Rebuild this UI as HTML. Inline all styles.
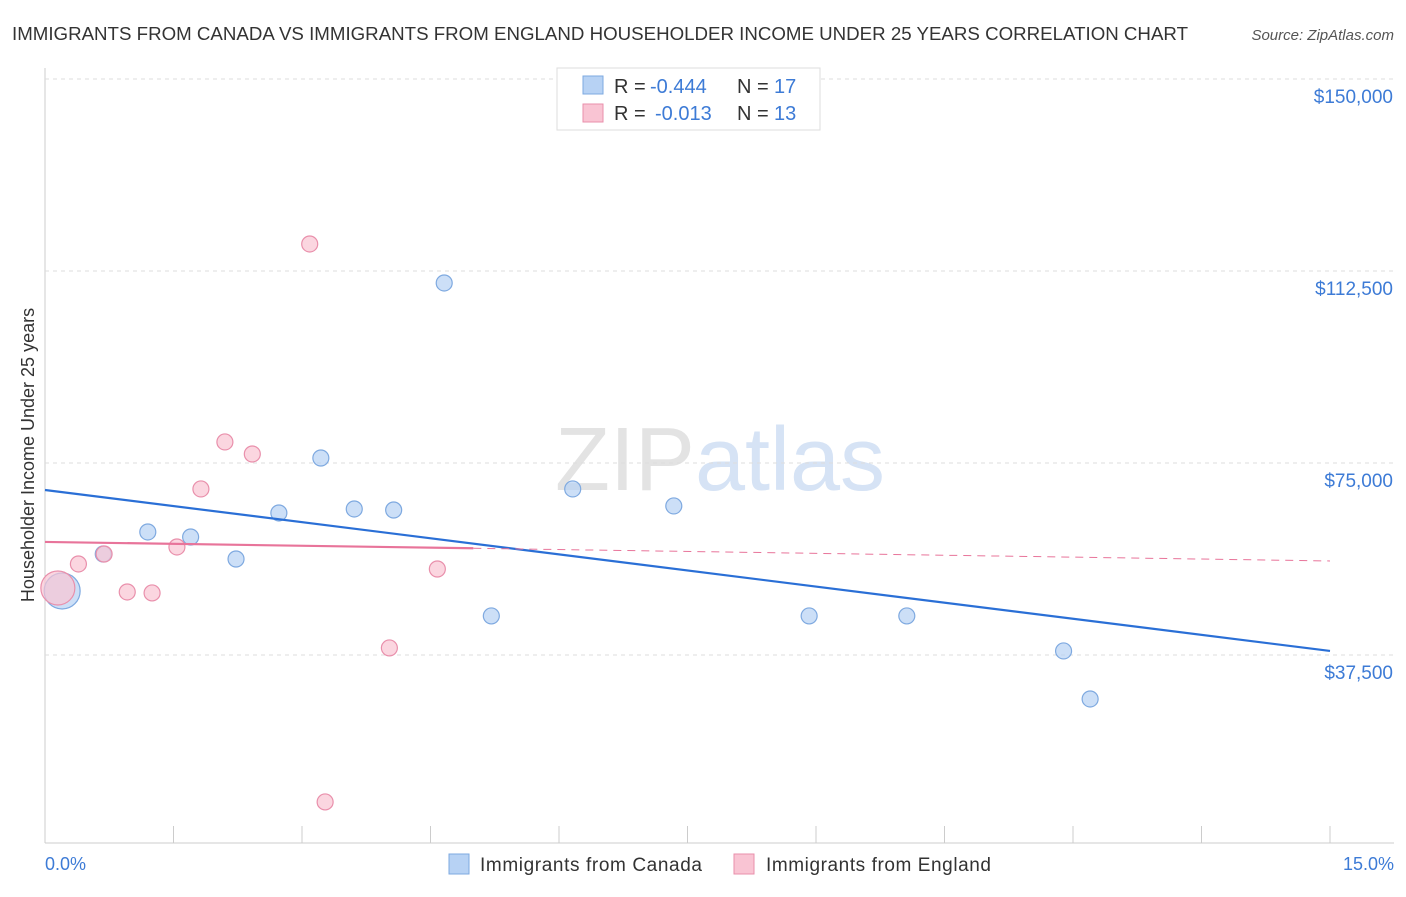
<!DOCTYPE html>
<html><head><meta charset="utf-8"><style>
body{margin:0;background:#fff;font-family:"Liberation Sans",sans-serif;}
svg text{font-family:"Liberation Sans",sans-serif;}
</style></head><body>
<svg id="chart" width="1406" height="892">
<text x="12" y="40" font-size="18" fill="#333" textLength="1176" lengthAdjust="spacingAndGlyphs">IMMIGRANTS FROM CANADA VS IMMIGRANTS FROM ENGLAND HOUSEHOLDER INCOME UNDER 25 YEARS CORRELATION CHART</text>
<text x="1394" y="40" font-size="15" fill="#555" font-style="italic" text-anchor="end">Source: ZipAtlas.com</text>
<text x="720" y="490" font-size="90" fill="#e3e3e3" text-anchor="middle" font-family="Liberation Serif">ZIP<tspan fill="#d6e3f5" font-family="Liberation Sans">atlas</tspan></text>
<text transform="translate(34,455) rotate(-90)" font-size="18" fill="#333" text-anchor="middle">Householder Income Under 25 years</text>
<g id="grid"></g><g id="marks"></g>
<text x="45" y="870" font-size="18" fill="#3d7bd6">0.0%</text>
<text x="1394" y="870" font-size="18" fill="#3d7bd6" text-anchor="end">15.0%</text>
<g>
<rect x="557" y="68" width="263" height="62" fill="#fff" stroke="#ddd"/>
<rect x="583" y="76" width="20" height="18" fill="#b7d2f4" stroke="#7ea9e0"/>
<rect x="583" y="104" width="20" height="18" fill="#f9c4d3" stroke="#e98fab"/>
<text x="614" y="93" font-size="20" fill="#333">R = <tspan x="650" fill="#3d7bd6">-0.444</tspan><tspan x="737">N = </tspan><tspan x="774" fill="#3d7bd6">17</tspan></text>
<text x="614" y="120" font-size="20" fill="#333">R = <tspan x="655" fill="#3d7bd6">-0.013</tspan><tspan x="737">N = </tspan><tspan x="774" fill="#3d7bd6">13</tspan></text>
</g>
<g>
<rect x="449" y="854" width="20" height="20" fill="#b7d2f4" stroke="#7ea9e0"/>
<text x="480" y="871" font-size="19" fill="#333" textLength="222">Immigrants from Canada</text>
<rect x="734" y="854" width="20" height="20" fill="#f9c4d3" stroke="#e98fab"/>
<text x="766" y="871" font-size="19" fill="#333" textLength="225">Immigrants from England</text>
</g>
</svg>
<script>
const yTicks=[37500,75000,112500,150000];
const yTickLabels=["$37,500","$75,000","$112,500","$150,000"];
const canadaX=[0.2,0.68,1.2,1.7,2.23,2.73,3.22,3.61,4.07,4.66,5.21,6.16,7.34,8.92,10.06,11.89,12.2];
const canadaY=[50000,57230,61530,60550,56250,65240,75980,66020,65820,110160,45130,69930,66610,45130,45130,38290,28910];
const englandX=[0.15,0.39,0.69,0.96,1.25,1.54,1.82,2.1,2.42,3.09,3.27,4.02,4.58];
const englandY=[50590,55280,57230,49810,49620,58600,69930,79110,76760,117780,8800,38880,54300];
const canadaTrend=[69730,38290];
const englandTrend=[59580,55870];
const englandSolidEnd=5.0;
const X=p=>45+p/15*1285;
const Y=v=>79+(150000-v)/37500*192;
const NS="http://www.w3.org/2000/svg";
function mk(t,a,parent){const e=document.createElementNS(NS,t);for(const k in a)e.setAttribute(k,a[k]);document.getElementById(parent).appendChild(e);return e;}
let ax=mk('line',{x1:45,y1:68,x2:45,y2:843,stroke:'#ccc'},'grid');


let bx=mk('line',{x1:45,y1:843,x2:1394,y2:843,stroke:'#ccc'},'grid');


for(let i=1;i<=10;i++){const t=mk('line',{x1:X(i*1.5),y1:826,x2:X(i*1.5),y2:843,stroke:'#ccc'},'grid');

}
yTicks.forEach((v,i)=>{const g=mk('line',{x1:45,y1:Y(v),x2:1394,y2:Y(v),stroke:'#ddd','stroke-dasharray':'4,4'},'grid');


const t=mk('text',{x:1393,y:Y(v)+24,'font-size':19,fill:'#3d7bd6','text-anchor':'end'},'grid');t.textContent=yTickLabels[i];

});
function dot(x,y,r,fill,stroke,name){const c=mk('circle',{cx:X(x),cy:Y(y),r:r,fill:fill,stroke:stroke,'stroke-width':1.2,'fill-opacity':0.7},'marks');

}
canadaX.forEach((x,i)=>dot(x,canadaY[i],i==0?18:8,'#b7d2f4','#7ea9e0','canada-point'));
englandX.forEach((x,i)=>dot(x,englandY[i],i==0?17:8,'#f9c4d3','#e98fab','england-point'));
const bl=mk('line',{x1:X(0),y1:Y(canadaTrend[0]),x2:X(15),y2:Y(canadaTrend[1]),stroke:'#2a6fd6','stroke-width':2.2},'marks');


const ey=p=>englandTrend[0]+(englandTrend[1]-englandTrend[0])*p/15;
const pl=mk('line',{x1:X(0),y1:Y(ey(0)),x2:X(englandSolidEnd),y2:Y(ey(englandSolidEnd)),stroke:'#e8749a','stroke-width':2.2},'marks');


const pd=mk('line',{x1:X(englandSolidEnd),y1:Y(ey(englandSolidEnd)),x2:X(15),y2:Y(ey(15)),stroke:'#e8749a','stroke-width':1,'stroke-dasharray':'8,6'},'marks');


</script>
</body></html>
